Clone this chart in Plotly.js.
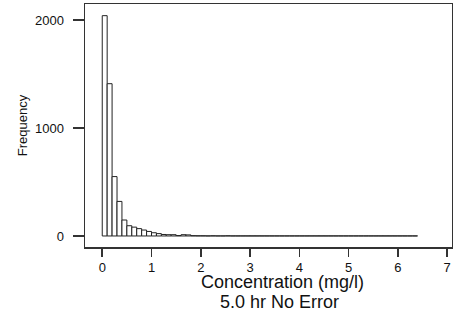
<!DOCTYPE html>
<html>
<head>
<meta charset="utf-8">
<script src="https://cdn.plot.ly/plotly-3.0.1.min.js"></script>
<style>
  html, body { margin: 0; padding: 0; background: #fff; }
  #chart { width: 453px; height: 320px; }
</style>
</head>
<body>
<div id="chart"></div>
<script>
// Histogram of simulated concentrations, 0.1 mg/l bins starting at 0
const binStart = 0;
const binWidth = 0.1;
const counts = [
  2040, 1410, 550, 320, 148, 95, 82, 68, 55, 42,
  30, 22, 14, 12, 12, 4, 12, 10, 3, 2,
  2, 1, 2, 1, 1, 2, 1, 1, 1, 1,
  1, 1, 1, 1, 1, 1, 1, 1, 1, 1,
  1, 1, 1, 1, 1, 1, 1, 1, 1, 1,
  1, 1, 1, 1, 1, 1, 1, 1, 1, 1,
  1, 1, 1, 1
];
const xTicks = [0, 1, 2, 3, 4, 5, 6, 7];
const yTicks = [0, 1000, 2000];
const xTitle = 'Concentration (mg/l)';
const subTitle = '5.0 hr No Error';
const yTitle = 'Frequency';

const centers = counts.map((_, i) => binStart + binWidth * (i + 0.5));

const tickFont = { family: 'Liberation Sans, Arial, sans-serif', size: 13, color: '#111' };

const trace = {
  type: 'bar',
  x: centers,
  y: counts,
  width: binWidth,
  marker: { color: '#ffffff', line: { color: '#222', width: 1 } },
  hoverinfo: 'x+y'
};

const layout = {
  width: 453,
  height: 320,
  margin: { l: 85, r: 1, t: 4, b: 73 },
  paper_bgcolor: '#ffffff',
  plot_bgcolor: '#ffffff',
  showlegend: false,
  bargap: 0,
  xaxis: {
    range: [-0.35, 7.1],
    tickmode: 'array',
    tickvals: xTicks,
    ticktext: xTicks.map(String),
    ticks: 'outside',
    ticklen: 8,
    tickwidth: 1.5,
    tickcolor: '#333',
    showline: true,
    linecolor: '#333',
    linewidth: 1.5,
    mirror: true,
    showgrid: false,
    zeroline: false,
    tickfont: tickFont
  },
  yaxis: {
    range: [-102, 2148],
    tickmode: 'array',
    tickvals: yTicks,
    ticktext: yTicks.map(String),
    ticks: 'outside',
    ticklen: 11,
    tickwidth: 1.5,
    tickcolor: '#333',
    ticklabelstandoff: 6,
    showline: true,
    linecolor: '#333',
    linewidth: 1.5,
    mirror: true,
    showgrid: false,
    zeroline: false,
    tickfont: tickFont,
    title: {
      text: yTitle,
      standoff: 4,
      font: { family: 'Liberation Sans, Arial, sans-serif', size: 13, color: '#111' }
    }
  },
  annotations: [
    {
      text: xTitle, xref: 'x', yref: 'paper', x: 3.65, y: 0, yshift: -47,
      xanchor: 'center', yanchor: 'bottom', showarrow: false,
      font: { family: 'Liberation Sans, Arial, sans-serif', size: 18, color: '#111' }
    },
    {
      text: subTitle, xref: 'x', yref: 'paper', x: 3.6, y: 0, yshift: -67,
      xanchor: 'center', yanchor: 'bottom', showarrow: false,
      font: { family: 'Liberation Sans, Arial, sans-serif', size: 18, color: '#111' }
    }
  ]
};

Plotly.newPlot('chart', [trace], layout, { displayModeBar: false, staticPlot: true });
</script>
</body>
</html>
